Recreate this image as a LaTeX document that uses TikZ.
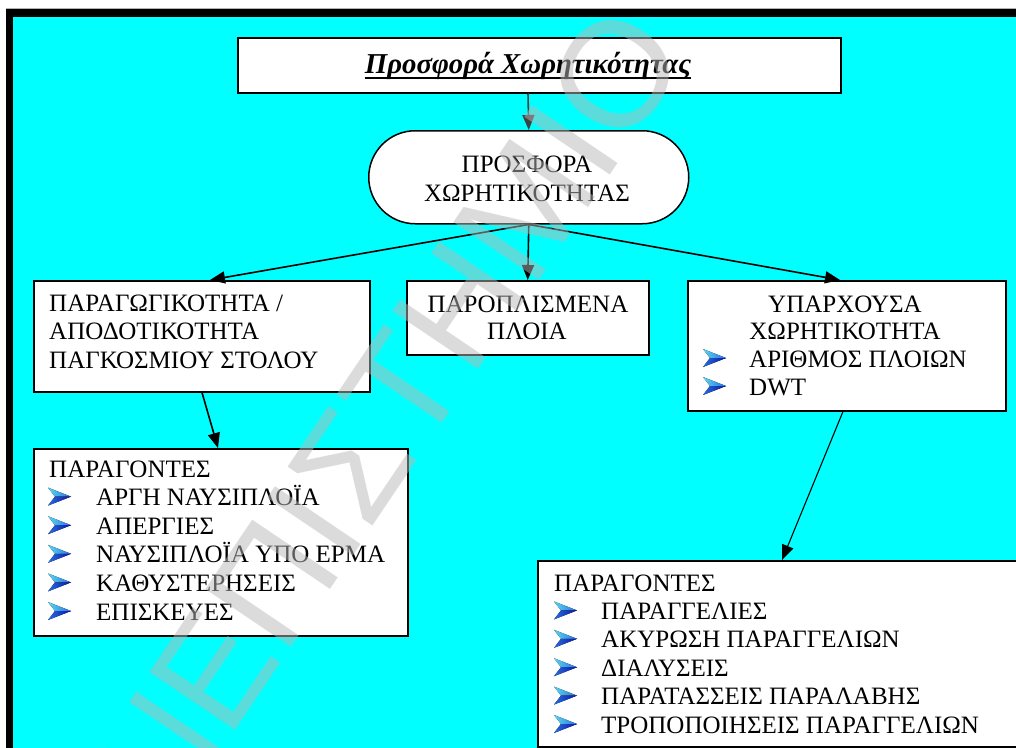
\documentclass[tikz,border=0pt]{standalone}
\usepackage{fontspec}
\setmainfont{Liberation Serif}
\newfontfamily\wmfont{Liberation Sans}
\usetikzlibrary{arrows.meta}

\definecolor{bgcyan}{RGB}{0,255,255}
\definecolor{wmgray}{RGB}{184,184,184}
\definecolor{tipgray}{RGB}{64,64,64}
\definecolor{bulletlight}{RGB}{90,215,240}
\definecolor{bulletmid}{RGB}{40,110,220}
\definecolor{bulletdark}{RGB}{10,20,170}

\begin{document}
\begin{tikzpicture}[x=1pt,y=-1pt,
  box/.style={draw=black, line width=1.5pt, fill=white, inner sep=0pt, anchor=north west},
  txt/.style={font=\fontsize{25}{28}\selectfont, inner sep=0pt, anchor=base west},
  ctxt/.style={txt, anchor=base},
  link/.style={line width=1.6pt, -{Triangle[length=15pt,width=12pt]}},
  pointer/.pic={
    \fill[left color=bulletlight, right color=bulletmid] (0,-18) -- (23,-9) -- (7,-9) -- cycle;
    \fill[left color=bulletmid, right color=bulletdark] (7,-9) -- (23,-9) -- (0,0) -- cycle;
  }]

\clip (0,0) rectangle (1016,747);

% page frame
\fill[white] (0,0) rectangle (1016,747);
\fill[black] (6,9) rectangle (1030,760);
\fill[bgcyan] (13,17) rectangle (1030,760);
\draw[gray!60, line width=0.8pt] (6,8.6) -- (1016,8.6);

% boxes
\node[box, minimum width=603pt, minimum height=55pt] (ttl) at (237,37) {};
\node[box, rounded corners=46.5pt, minimum width=320pt, minimum height=93pt] (rnd) at (368,130) {};
\node[box, minimum width=336pt, minimum height=111pt] (lbox) at (33,280) {};
\node[box, minimum width=242pt, minimum height=74pt] (mbox) at (406,280) {};
\node[box, minimum width=318pt, minimum height=130pt] (rbox) at (687,280) {};
\node[box, minimum width=374pt, minimum height=187pt] (lfac) at (33,448) {};
\node[box, minimum width=500pt, minimum height=186pt] (rfac) at (537,560) {};

% title
\node[ctxt, font=\fontsize{28.8}{32}\selectfont\bfseries\itshape] (ttltext) at (528,73) {Προσφορά Χωρητικότητας};
\draw[line width=2.4pt] ([yshift=-5pt]ttltext.base west) -- ([yshift=-5pt]ttltext.base east);

% rounded box
\node[ctxt] (rt1) at (527,172) {ΠΡΟΣΦΟΡΑ};
\node[ctxt] (rt2) at (527,201) {ΧΩΡΗΤΙΚΟΤΗΤΑΣ};

% left box
\node[txt] (l1) at (49,311) {ΠΑΡΑΓΩΓΙΚΟΤΗΤΑ /};
\node[txt] (l2) at (49,339) {ΑΠΟΔΟΤΙΚΟΤΗΤΑ};
\node[txt] (l3) at (49,368) {ΠΑΓΚΟΣΜΙΟΥ ΣΤΟΛΟΥ};

% middle box
\node[ctxt] (m1) at (528,312) {ΠΑΡΟΠΛΙΣΜΕΝΑ};
\node[ctxt] (m2) at (527,339) {ΠΛΟΙΑ};

% right box
\node[ctxt] (r1) at (845,312) {ΥΠΑΡΧΟΥΣΑ};
\node[ctxt] (r2) at (845,339) {ΧΩΡΗΤΙΚΟΤΗΤΑ};
\pic at (703,367) {pointer};
\node[txt] (r3) at (749,367) {ΑΡΙΘΜΟΣ ΠΛΟΙΩΝ};
\pic at (703,395) {pointer};
\node[txt] (r4) at (749,395) {DWT};

% left factors
\node[txt] (a0) at (49,477) {ΠΑΡΑΓΟΝΤΕΣ};
\foreach \t [count=\i] in {ΑΡΓΗ ΝΑΥΣΙΠΛΟΪΑ, ΑΠΕΡΓΙΕΣ, ΝΑΥΣΙΠΛΟΪΑ ΥΠΟ ΕΡΜΑ, ΚΑΘΥΣΤΕΡΗΣΕΙΣ, ΕΠΙΣΚΕΥΕΣ}{
  \pic at (48,{477+28.6*\i}) {pointer};
  \node[txt] (a\i) at (96,{477+28.6*\i}) {\t};
}

% right factors
\node[txt] (b0) at (554,591) {ΠΑΡΑΓΟΝΤΕΣ};
\foreach \t [count=\i] in {ΠΑΡΑΓΓΕΛΙΕΣ, ΑΚΥΡΩΣΗ ΠΑΡΑΓΓΕΛΙΩΝ, ΔΙΑΛΥΣΕΙΣ, ΠΑΡΑΤΑΣΣΕΙΣ ΠΑΡΑΛΑΒΗΣ, ΤΡΟΠΟΠΟΙΗΣΕΙΣ ΠΑΡΑΓΓΕΛΙΩΝ}{
  \pic at (554,{591+28.4*\i}) {pointer};
  \node[txt] (b\i) at (601,{591+28.4*\i}) {\t};
}

% connectors
\draw[link, color=tipgray] ([xshift=291pt]ttl.south west) -- (rnd.north);
\draw[link] (rnd.south) -- ([xshift=177pt]lbox.north west);
\draw[link] (rnd.south) -- (mbox.north);
\draw[link] (rnd.south) -- ([xshift=153pt]rbox.north west);
\draw[link] ([xshift=169pt]lbox.south west) -- ([xshift=185pt]lfac.north west);
\draw[link, line width=1.1pt] ([xshift=156pt]rbox.south west) -- ([xshift=245pt]rfac.north west);

% watermark
\node[font=\wmfont\fontsize{150}{150}\selectfont, text=wmgray, text opacity=0.5,
      rotate=56, anchor=base east, inner sep=0pt] (wm) at (691,55) {ΠΑΝΕΠΙΣΤΗΜΙΟ};
\end{tikzpicture}
\end{document}
